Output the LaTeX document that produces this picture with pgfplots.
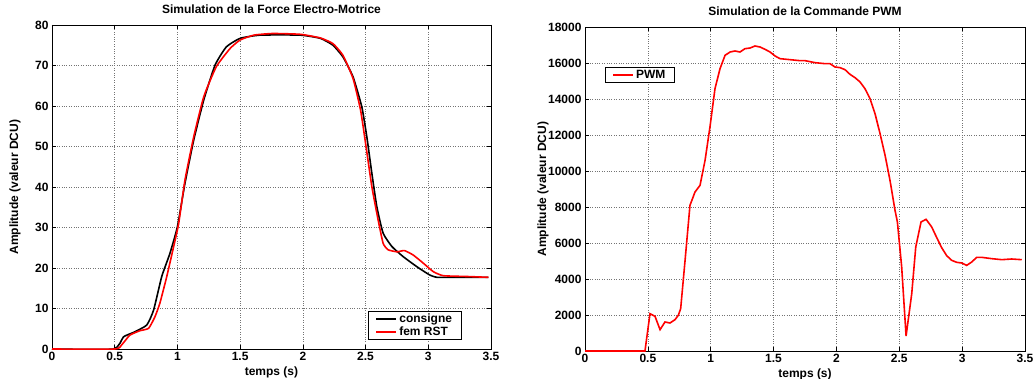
\documentclass[border=0pt]{standalone}
\usepackage{fontspec}
\setmainfont{Liberation Sans}
\usepackage{pgfplots}
\pgfplotsset{compat=1.18}

\pgfplotsset{
  matlabstyle/.style={
    scale only axis,
    width=439pt, height=324pt,
    xmin=0, xmax=3.5,
    xtick={0,0.5,1,1.5,2,2.5,3,3.5},
    xticklabels={0,0.5,1,1.5,2,2.5,3,3.5},
    tick align=inside,
    major tick length=4pt,
    tick style={black, line width=0.6pt},
    axis line style={black, line width=0.9pt},
    grid=major,
    major grid style={black!55, dotted, line width=0.6pt},
    font=\fontsize{12}{14}\selectfont\bfseries,
    tick label style={font=\fontsize{12}{14}\selectfont\bfseries},
    /pgf/number format/assume math mode=true,
    /pgf/number format/1000 sep={},
    scaled y ticks=false,
    title style={at={(axis description cs:0.5,1)}, anchor=south, yshift=2pt},
    every axis x label/.style={at={(axis description cs:0.5,0)}, anchor=north, yshift=-14pt},
    legend style={draw=black, line width=0.9pt, fill=white,
      font=\fontsize{12}{14}\selectfont\bfseries,
      inner xsep=7pt, inner ysep=0.5pt, row sep=-1.5pt},
    legend cell align=left,
    legend image code/.code={\draw[#1, line width=1.8pt] (0pt,0pt) -- (20pt,0pt);},
  }
}

\begin{document}
\begin{tikzpicture}
% left panel: electromotive force
\begin{axis}[matlabstyle,
  at={(0pt,0pt)}, anchor=south west,
  ymin=0, ymax=80, ytick={0,10,...,80},
  every axis y label/.style={at={(axis description cs:-0.0843,0.5)}, rotate=90, anchor=center},
  title={Simulation de la Force Electro-Motrice},
  xlabel={temps (s)}, ylabel={Amplitude (valeur DCU)},
  legend style={at={(0.72,0.028)}, anchor=south west},
]
\addplot[black, line width=1.6pt, smooth, tension=0.3] coordinates {
(0,0) (0.49,0) (0.57,3.0) (0.65,4.1) (0.755,5.9) (0.81,9.6) (0.875,17.9)
(0.94,23.6) (1.0,30.2) (1.06,40.9) (1.13,51.6) (1.21,61.5) (1.30,70.1)
(1.39,74.6) (1.50,76.7) (1.66,77.5) (1.98,77.5) (2.14,76.7) (2.24,75.0)
(2.32,72.1) (2.40,67.2) (2.47,59.8) (2.51,52.4) (2.55,43.4) (2.59,35.1)
(2.64,28.6) (2.71,25.3) (2.80,22.8) (2.91,20.3) (3.01,18.3) (3.07,17.7)
(3.20,17.7) (3.48,17.7)
};
\addlegendentry{consigne}
\addplot[red, line width=1.6pt, smooth, tension=0.3] coordinates {
(0,0) (0.50,0) (0.555,1.0) (0.62,3.4) (0.70,4.5) (0.77,5.1) (0.82,7.9)
(0.86,11.3) (0.915,17.9) (0.97,25.3) (1.01,31.0) (1.06,41.7) (1.13,52.4)
(1.21,62.3) (1.31,69.7) (1.42,74.2) (1.50,76.3) (1.61,77.5) (1.76,77.9)
(1.98,77.7) (2.14,76.8) (2.24,75.4) (2.32,72.5) (2.40,66.8) (2.46,59.0)
(2.50,50.8) (2.55,40.1) (2.60,31.9) (2.64,26.1) (2.68,24.5) (2.75,24.0)
(2.81,24.3) (2.88,23.2) (2.96,21.2) (3.04,19.1) (3.12,18.1) (3.31,17.9)
(3.48,17.7)
};
\addlegendentry{fem RST}
\end{axis}

% right panel: PWM command
\begin{axis}[matlabstyle,
  at={(533pt,-2pt)}, anchor=south west, width=440pt,
  ymin=0, ymax=18000, ytick={0,2000,...,18000},
  every axis y label/.style={at={(axis description cs:-0.0955,0.5)}, rotate=90, anchor=center},
  title={Simulation de la Commande PWM},
  xlabel={temps (s)}, ylabel={Amplitude (valeur DCU)},
  legend style={at={(0.045,0.877)}, anchor=north west},
]
\addplot[red, line width=1.6pt] coordinates {
(0,0) (0.477,0) (0.517,2074) (0.557,1926) (0.597,1185) (0.636,1611)
(0.676,1556) (0.716,1741) (0.742,1981) (0.761,2352) (0.796,5037)
(0.835,8093) (0.875,8833) (0.915,9204) (0.955,10593) (0.994,12444)
(1.034,14574) (1.074,15685) (1.114,16426) (1.154,16611) (1.193,16667)
(1.233,16611) (1.273,16796) (1.313,16833) (1.352,16944) (1.392,16889)
(1.432,16759) (1.472,16611) (1.512,16389) (1.551,16241) (1.631,16185)
(1.710,16130) (1.750,16130) (1.830,16019) (1.909,15963) (1.949,15963)
(1.989,15778) (2.029,15741) (2.068,15630) (2.108,15370) (2.148,15185)
(2.188,14944) (2.227,14574) (2.267,14019) (2.307,13185) (2.347,12074)
(2.387,10870) (2.426,9481) (2.466,7815) (2.485,7167) (2.519,4667)
(2.554,833) (2.599,3185) (2.631,5778) (2.673,7167) (2.713,7317)
(2.758,6889) (2.798,6296) (2.837,5741) (2.877,5296) (2.917,5037)
(2.957,4926) (2.997,4889) (3.036,4759) (3.076,4944) (3.116,5204)
(3.156,5204) (3.235,5130) (3.315,5074) (3.394,5111) (3.474,5074)
};
\addlegendentry{PWM}
\end{axis}

% fixed page frame
\pgfresetboundingbox
\path (-52pt,-29pt) rectangle (981pt,349pt);
\end{tikzpicture}
\end{document}
